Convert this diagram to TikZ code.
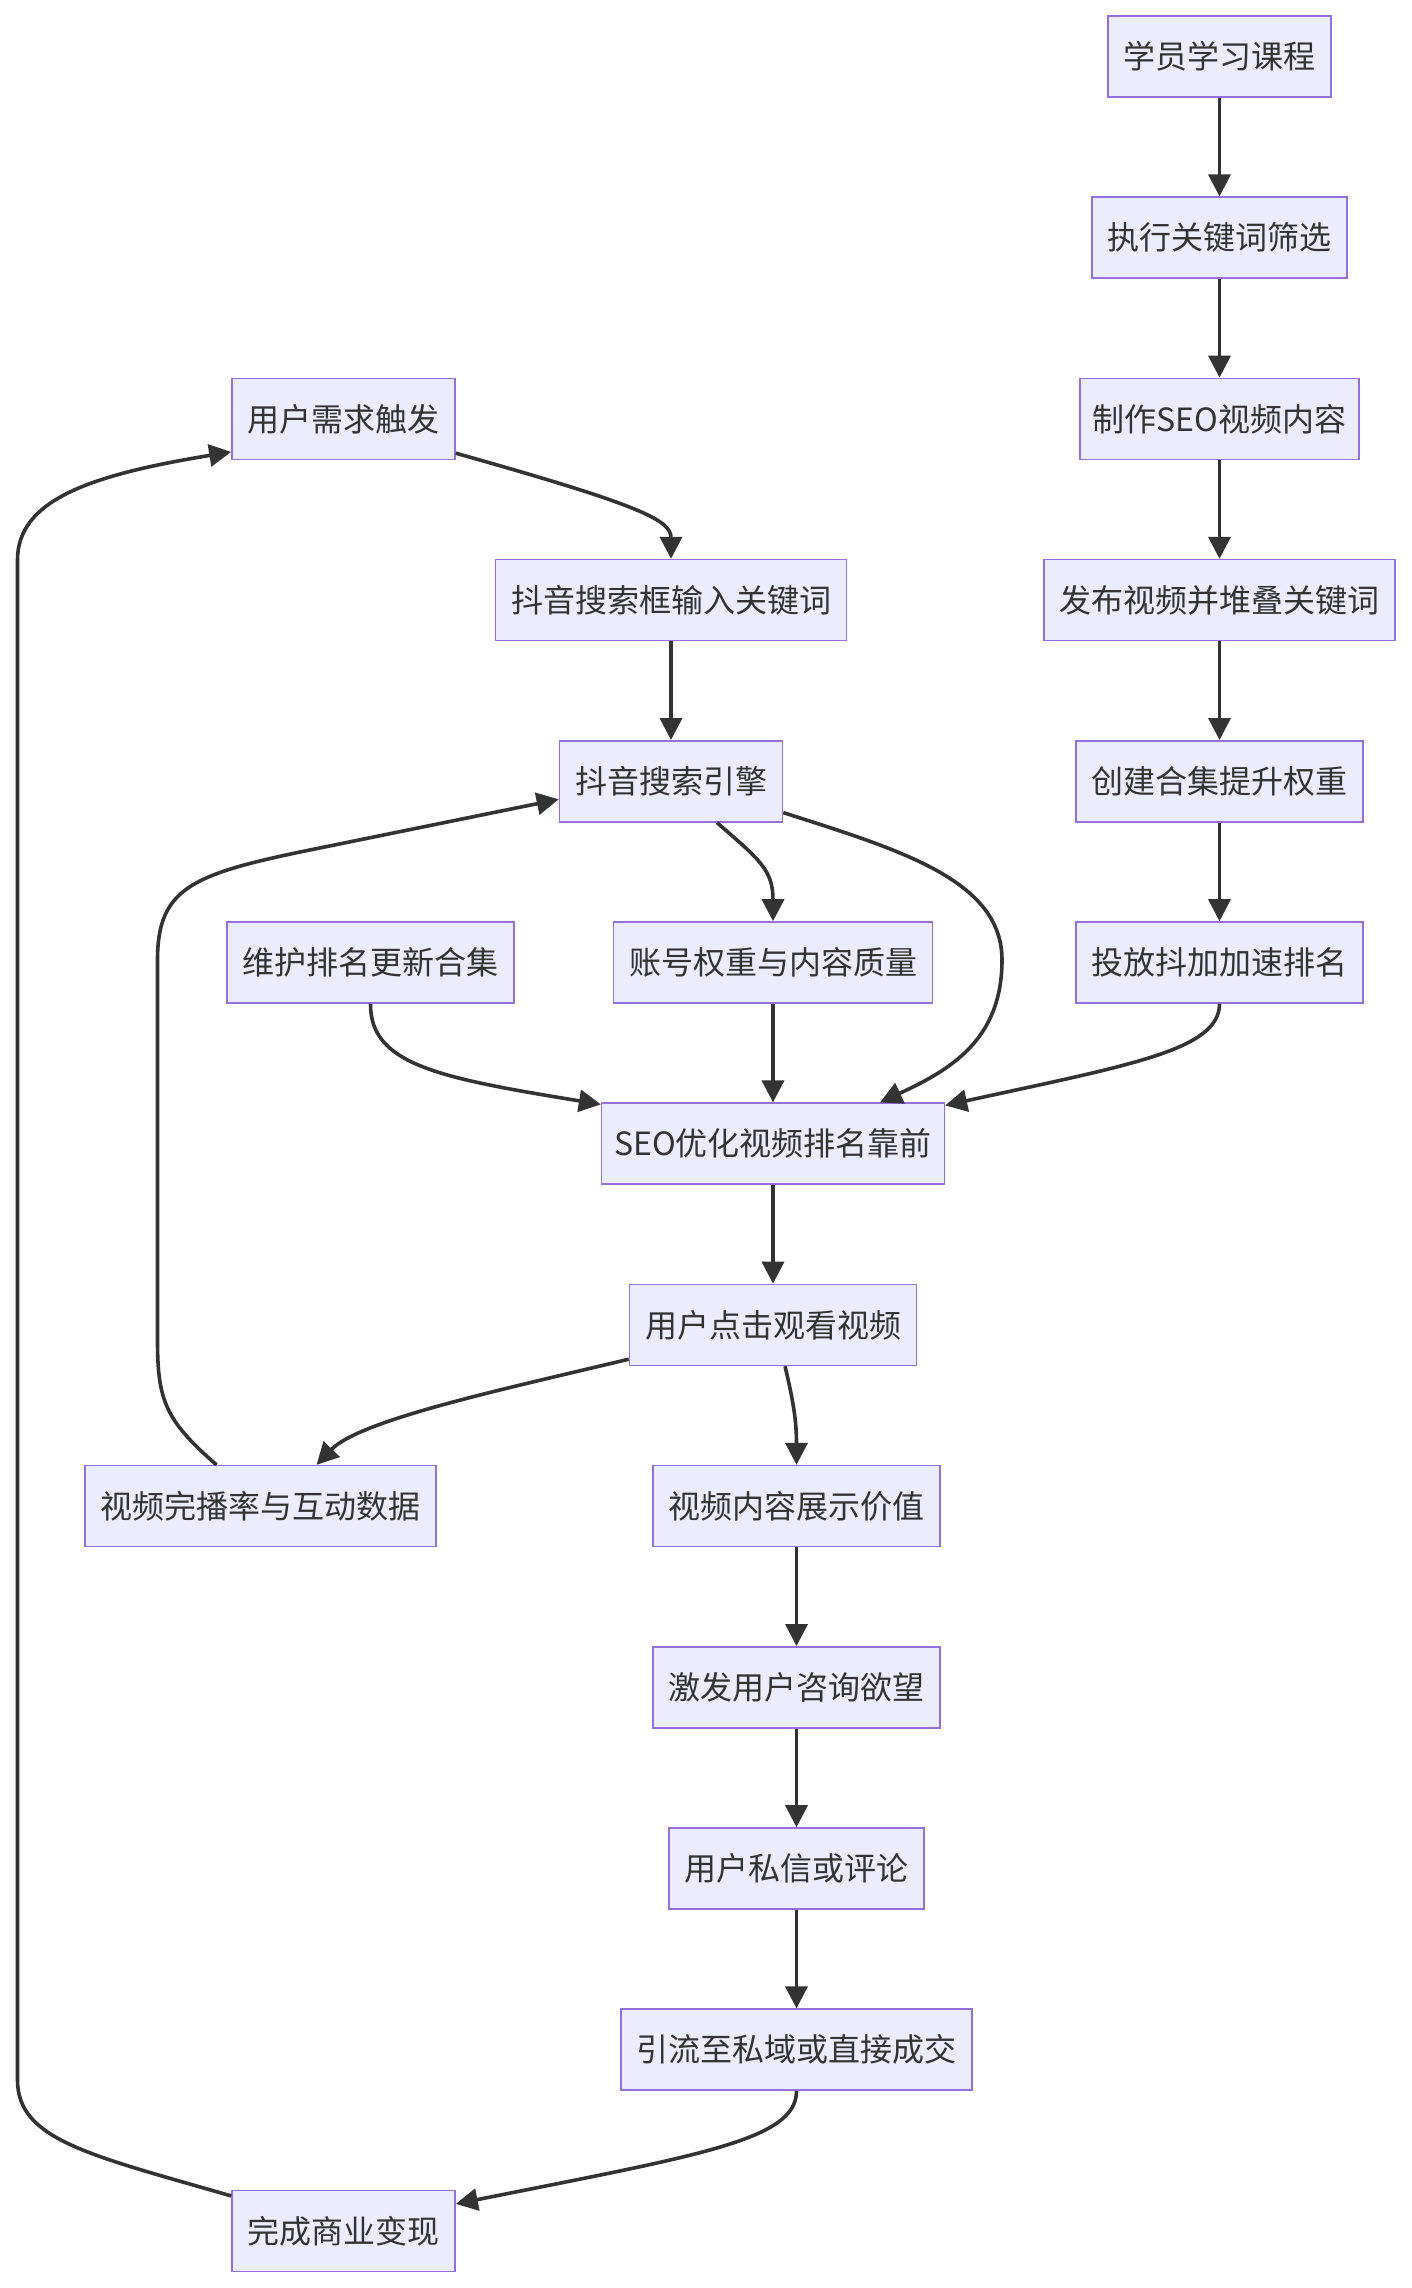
\documentclass[tikz,border=0pt]{standalone}
\usepackage{fontspec}
\setmainfont{Noto Sans CJK SC}
\usetikzlibrary{arrows.meta,calc}
\definecolor{boxfill}{HTML}{ECECFF}
\definecolor{boxline}{HTML}{9370DB}
\definecolor{edgecol}{HTML}{333333}
\tikzset{
  box/.style={draw=boxline, fill=boxfill, line width=0.8pt, text=edgecol,
    font=\fontsize{16pt}{19pt}\selectfont, inner xsep=7.75pt, inner ysep=0pt,
    minimum height=40.5pt},
  latinbox/.style={box, inner xsep=6.25pt},
  arr/.style={draw=edgecol, line width=1.8pt, -{Triangle[length=11pt,width=11pt]}}
}
\begin{document}
\begin{tikzpicture}[x=0.5pt,y=-0.5pt]
\fill[white] (0,0) rectangle (1412,2288);
\useasboundingbox (0,0) rectangle (1412,2288);
\node[box] (n1) at (1219.5,56.5) {学员学习课程};
\node[box] (n2) at (1219.5,237.7) {执行关键词筛选};
\node[latinbox] (n3) at (1219.5,418.9) {制作SEO视频内容};
\node[box] (n4) at (1219.5,600.1) {发布视频并堆叠关键词};
\node[box] (n5) at (1219.5,781.3) {创建合集提升权重};
\node[box] (n6) at (1219.5,962.5) {投放抖加加速排名};
\node[box] (n7) at (343.5,418.9) {用户需求触发};
\node[box] (n8) at (671,600.1) {抖音搜索框输入关键词};
\node[box] (n9) at (671,781.3) {抖音搜索引擎};
\node[box] (n10) at (370.5,962.5) {维护排名更新合集};
\node[box] (n11) at (773,962.5) {账号权重与内容质量};
\node[latinbox] (n12) at (773,1143.7) {SEO优化视频排名靠前};
\node[box] (n13) at (773,1324.9) {用户点击观看视频};
\node[box] (n14) at (260.5,1506.1) {视频完播率与互动数据};
\node[box] (n15) at (796.5,1506.1) {视频内容展示价值};
\node[box] (n16) at (796.5,1687.3) {激发用户咨询欲望};
\node[box] (n17) at (796.5,1868.5) {用户私信或评论};
\node[box] (n18) at (796.5,2049.7) {引流至私域或直接成交};
\node[box] (n19) at (343.5,2230.9) {完成商业变现};
% straight edges
\draw[arr] (n1) -- (n2);
\draw[arr] (n2) -- (n3);
\draw[arr] (n3) -- (n4);
\draw[arr] (n4) -- (n5);
\draw[arr] (n5) -- (n6);
\draw[arr] (n8) -- (n9);
\draw[arr] (n11) -- (n12);
\draw[arr] (n12) -- (n13);
\draw[arr] (n15) -- (n16);
\draw[arr] (n16) -- (n17);
\draw[arr] (n17) -- (n18);
% curved edges
\draw[arr] ($(n7.south east)+(0,-7)$) .. controls (640,505) and (671,520) .. (n8.north);
\draw[arr] ($(n9.south)+(46,0)$) .. controls (760,860) and (773,870) .. (n11.north);
\draw[arr] ($(n9.south east)+(0,-10)$) .. controls (900,850) and (1002,880) .. (1002,960)
  .. controls (1002,1040) and (950,1070) .. ($(n12.north)+(107,0)$);
\draw[arr] (n10.south) .. controls (370,1065) and (440,1078) .. ($(n12.north west)+(0,2)$);
\draw[arr] (n6.south) .. controls (1219.5,1050) and (1130,1065) .. ($(n12.north east)+(0,3)$);
\draw[arr] ($(n13.south west)+(0,-7)$) .. controls (500,1390) and (360,1420) .. ($(n14.north)+(56,0)$);
\draw[arr] ($(n13.south)+(12,0)$) .. controls (793,1400) and (796.5,1420) .. (n15.north);
\draw[arr] ($(n14.north)+(-44,0)$) .. controls (165,1420) and (157.5,1400) .. (157.5,1340)
  -- (157.5,960) .. controls (157.5,890) and (190,875) .. (300,852) -- ($(n9.west)+(0,18)$);
\draw[arr] (n18.south) .. controls (796.5,2140) and (700,2155) .. ($(n19.east)+(0,-27)$);
\draw[arr] ($(n19.west)+(0,-35)$) .. controls (90,2155) and (17.5,2140) .. (17.5,2080)
  -- (17.5,560) .. controls (17.5,500) and (90,475) .. ($(n7.west)+(0,33)$);
\end{tikzpicture}
\end{document}
